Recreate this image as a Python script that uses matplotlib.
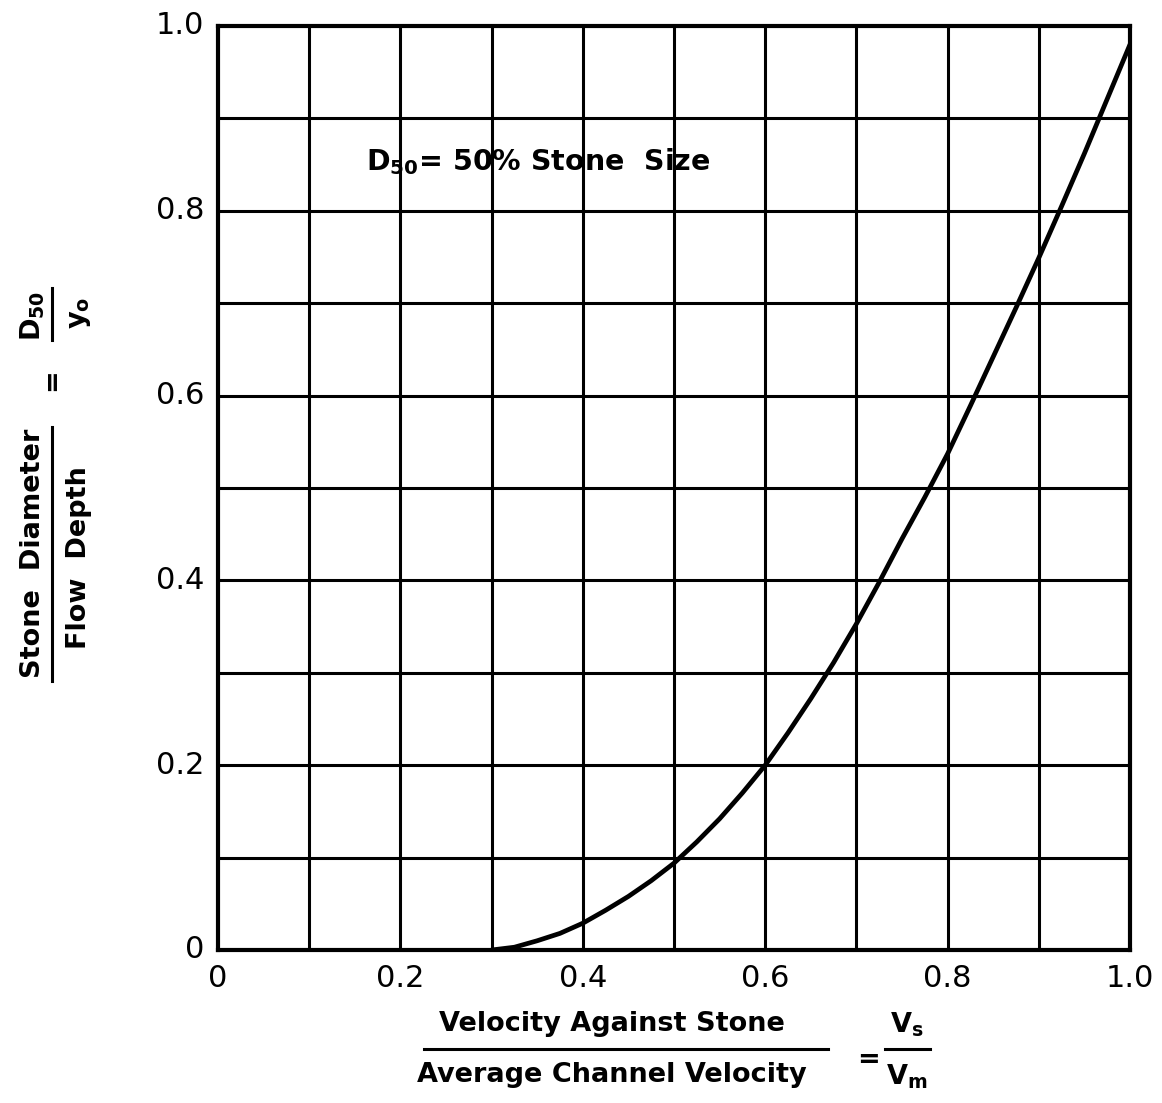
import matplotlib
matplotlib.use("Agg")
import matplotlib.pyplot as plt
from matplotlib.lines import Line2D

plt.rcParams['font.family'] = ['DejaVu Sans']
plt.rcParams['mathtext.fontset'] = 'dejavusans'
plt.rcParams['mathtext.default'] = 'bf'

# Velocity ratio Vs/Vm and stone-size ratio D50/yo
velocity_ratio = [0.300, 0.325, 0.350, 0.375, 0.400, 0.425, 0.450, 0.475,
                  0.500, 0.525, 0.550, 0.575, 0.600, 0.625, 0.650, 0.675,
                  0.700, 0.725, 0.750, 0.775, 0.800, 0.825, 0.850, 0.875,
                  0.900, 0.925, 0.950, 0.975, 1.000]
stone_ratio = [0.000, 0.003, 0.010, 0.018, 0.029, 0.043, 0.058, 0.075,
               0.094, 0.117, 0.142, 0.170, 0.200, 0.235, 0.272, 0.311,
               0.353, 0.398, 0.445, 0.490, 0.537, 0.589, 0.642, 0.695,
               0.749, 0.805, 0.862, 0.921, 0.980]

x_ticks = [0, 0.2, 0.4, 0.6, 0.8, 1.0]
x_tick_labels = ["0", "0.2", "0.4", "0.6", "0.8", "1.0"]
y_ticks = [0, 0.2, 0.4, 0.6, 0.8, 1.0]
y_tick_labels = ["0", "0.2", "0.4", "0.6", "0.8", "1.0"]

W, H = 1162, 1103
fig = plt.figure(figsize=(W / 100, H / 100), dpi=100)
ax = fig.add_axes([218 / W, 1 - 950 / H, (1130 - 218) / W, (950 - 26) / H])

ax.set_xlim(0, 1)
ax.set_ylim(0, 1)

# fine grid every 0.1
for v in [i / 10 for i in range(1, 10)]:
    ax.axvline(v, color='black', lw=2.2, zorder=1)
    ax.axhline(v, color='black', lw=2.2, zorder=1)

ax.plot(velocity_ratio, stone_ratio, color='black', lw=3.4,
        solid_capstyle='round', solid_joinstyle='round', zorder=3)

for s in ax.spines.values():
    s.set_linewidth(3.0)

ax.set_xticks(x_ticks)
ax.set_xticklabels(x_tick_labels)
ax.set_yticks(y_ticks)
ax.set_yticklabels(y_tick_labels)
ax.tick_params(length=0, labelsize=22, pad=10)
for lab in ax.get_yticklabels():
    lab.set_verticalalignment('center')

ax.text(0.162, 0.853, r"D$_{50}$= 50% Stone  Size", fontsize=20.5,
        fontweight='bold', ha='left', va='center', zorder=4)

def fx(px):
    return px / W

def fy(py):
    return 1 - py / H

lab_kw = dict(fontsize=19.5, fontweight='bold', ha='center', va='center')

# x-axis label as a fraction
fig.text(fx(612), fy(1024), "Velocity Against Stone", **lab_kw)
fig.text(fx(612), fy(1075), "Average Channel Velocity", **lab_kw)
fig.add_artist(Line2D([fx(424), fx(828)], [fy(1049), fy(1049)],
                      color='black', lw=2.2))
fig.text(fx(868), fy(1060), "=", **lab_kw)
fig.text(fx(907), fy(1025), r"V$_s$", **lab_kw)
fig.text(fx(907), fy(1077), r"V$_m$", **lab_kw)
fig.add_artist(Line2D([fx(885), fx(930)], [fy(1049), fy(1049)],
                      color='black', lw=2.2))

# y-axis label as a rotated fraction
fig.text(fx(33), fy(553), "Stone  Diameter", rotation=90, **lab_kw)
fig.text(fx(79), fy(558), "Flow  Depth", rotation=90, **lab_kw)
fig.add_artist(Line2D([fx(52), fx(52)], [fy(681), fy(427)],
                      color='black', lw=2.2))
fig.text(fx(52), fy(380), "=", rotation=90, **lab_kw)
fig.text(fx(33), fy(316), r"D$_{50}$", rotation=90, **lab_kw)
fig.text(fx(80), fy(313), r"y$_o$", rotation=90, **lab_kw)
fig.add_artist(Line2D([fx(52), fx(52)], [fy(340), fy(288)],
                      color='black', lw=2.2))

fig.savefig("out.png", dpi=100, facecolor='white')
